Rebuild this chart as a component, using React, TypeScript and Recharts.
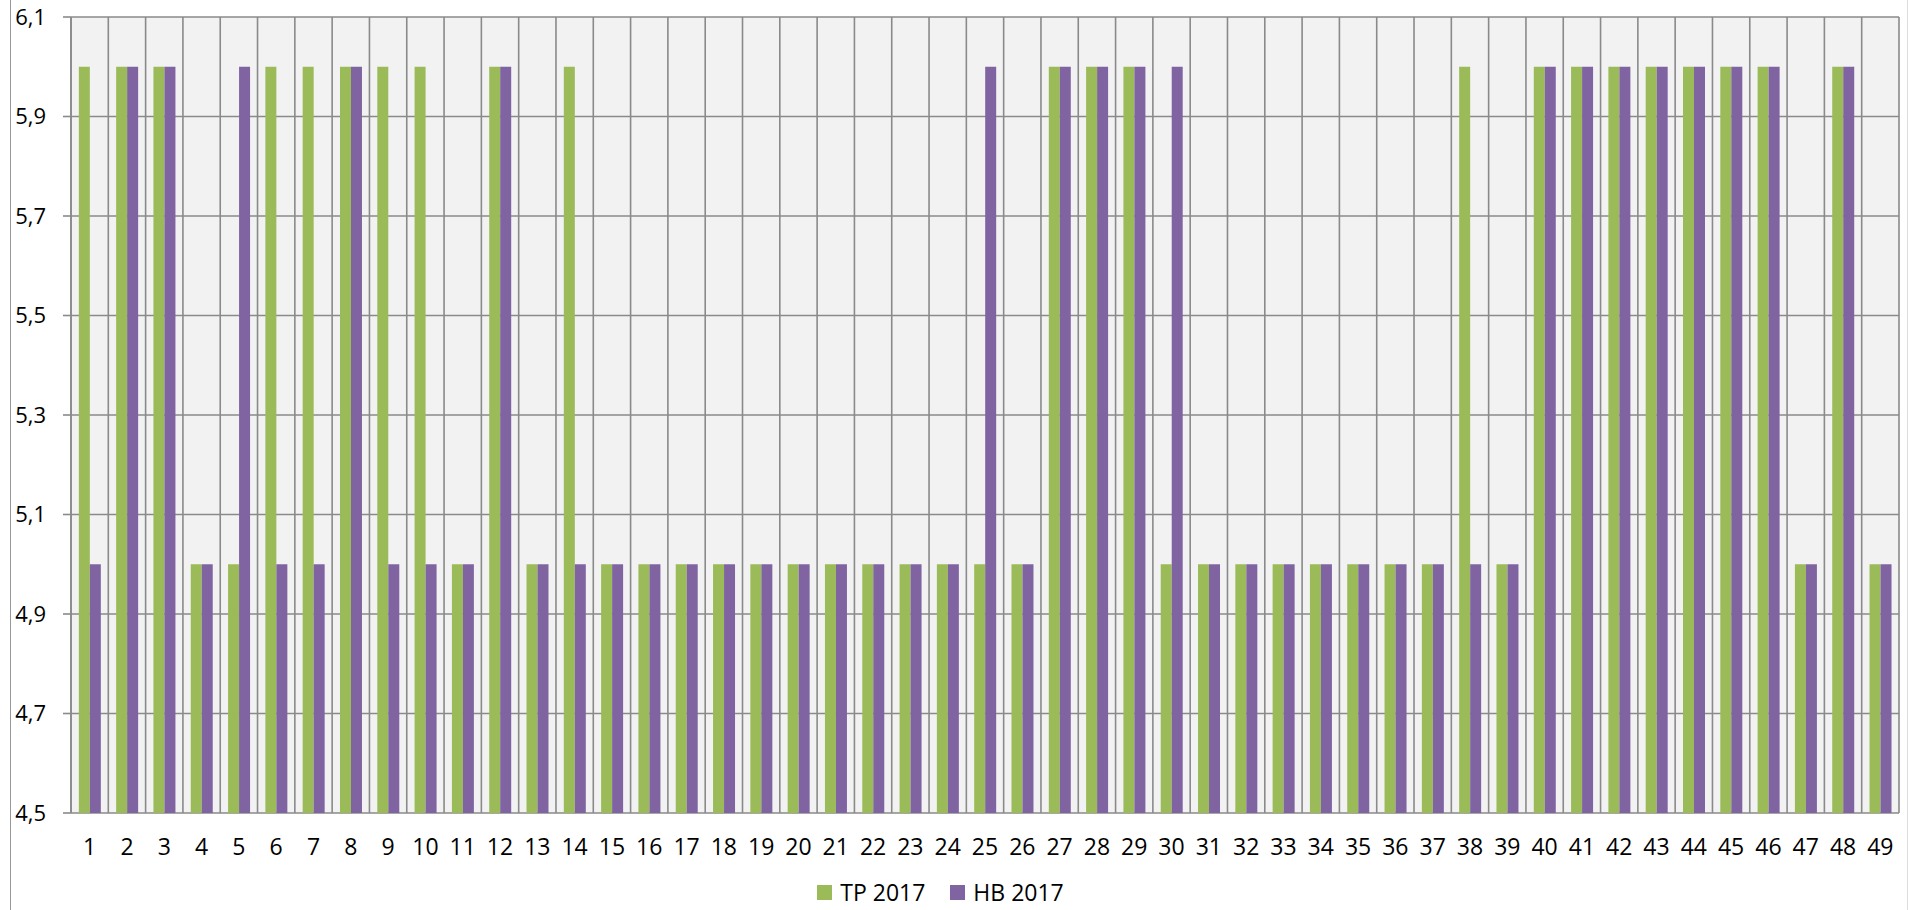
import React from "react";
import {
  BarChart,
  Bar,
  XAxis,
  YAxis,
  CartesianGrid,
  Legend,
} from "recharts";

const categorias = Array.from({ length: 49 }, (_, i) => String(i + 1));

const tp2017 = [
  6, 6, 6, 5, 5, 6, 6, 6, 6, 6,
  5, 6, 5, 6, 5, 5, 5, 5, 5, 5,
  5, 5, 5, 5, 5, 5, 6, 6, 6, 5,
  5, 5, 5, 5, 5, 5, 5, 6, 5, 6,
  6, 6, 6, 6, 6, 6, 5, 6, 5,
];

const hb2017 = [
  5, 6, 6, 5, 6, 5, 5, 6, 5, 5,
  5, 6, 5, 5, 5, 5, 5, 5, 5, 5,
  5, 5, 5, 5, 6, 5, 6, 6, 6, 6,
  5, 5, 5, 5, 5, 5, 5, 5, 5, 6,
  6, 6, 6, 6, 6, 6, 5, 6, 5,
];

const ticksY = [4.5, 4.7, 4.9, 5.1, 5.3, 5.5, 5.7, 5.9, 6.1];
const limites = Array.from({ length: 50 }, (_, i) => i);

const series = [
  { clave: "tp", nombre: "TP 2017", color: "#9BBB59" },
  { clave: "hb", nombre: "HB 2017", color: "#8064A2" },
];

const datos = categorias.map((c, i) => ({
  cat: c,
  tp: tp2017[i],
  hb: hb2017[i],
}));

const FUENTE = "'Open Sans', Calibri, sans-serif";
const GRIS = "#8a8a8a";

function Leyenda() {
  return (
    <div
      style={{
        display: "flex",
        justifyContent: "center",
        alignItems: "center",
        height: 30,
        fontFamily: FUENTE,
        fontSize: 23,
        color: "#000",
        paddingRight: 18,
      }}
    >
      {series.map((s, i) => (
        <div
          key={s.clave}
          style={{ display: "flex", alignItems: "center", marginLeft: i ? 25 : 0 }}
        >
          <span style={{ width: 15, height: 15, background: s.color, marginRight: 8 }} />
          <span>{s.nombre}</span>
        </div>
      ))}
    </div>
  );
}

export default function App() {
  return (
    <div style={{ position: "absolute", left: 0, top: 0, width: 1909, height: 910, background: "#fff" }}>
      <div style={{ position: "absolute", left: 10, top: 0, width: 1, height: 910, background: "#999" }} />
      <div style={{ position: "absolute", left: 1907, top: 0, width: 1, height: 910, background: "#ddd" }} />
      <BarChart
        width={1909}
        height={910}
        data={datos}
        margin={{ top: 17, right: 10, left: 0, bottom: 3 }}
        barCategoryGap="21%"
        barGap={0}
      >
        <CartesianGrid
          xAxisId="limites"
          fill="#F2F2F2"
          stroke={GRIS}
          strokeWidth={1.6}
          fillOpacity={1}
        />
        <XAxis
          xAxisId="limites"
          type="number"
          dataKey="x"
          domain={[0, 49]}
          ticks={limites}
          interval={0}
          height={0}
          allowDataOverflow
          tickSize={9}
          tickFormatter={() => ""}
          stroke={GRIS}
          strokeWidth={1.6}
        />
        <XAxis
          dataKey="cat"
          height={64}
          axisLine={false}
          tickLine={false}
          interval={0}
          tickMargin={20}
          tick={{ fontSize: 23, fill: "#000", fontFamily: FUENTE }}
        />
        <YAxis
          width={71}
          domain={[4.5, 6.1]}
          ticks={ticksY}
          interval={0}
          allowDataOverflow
          tickSize={8}
          tickMargin={17}
          stroke={GRIS}
          strokeWidth={1.6}
          tick={{ fontSize: 22, fill: "#000", fontFamily: FUENTE }}
          tickFormatter={(v: number) => v.toFixed(1).replace(".", ",")}
        />
        <Legend verticalAlign="bottom" content={() => <Leyenda />} />
        {series.map((s) => (
          <Bar
            key={s.clave}
            dataKey={s.clave}
            name={s.nombre}
            fill={s.color}
            isAnimationActive={false}
          />
        ))}
      </BarChart>
    </div>
  );
}
